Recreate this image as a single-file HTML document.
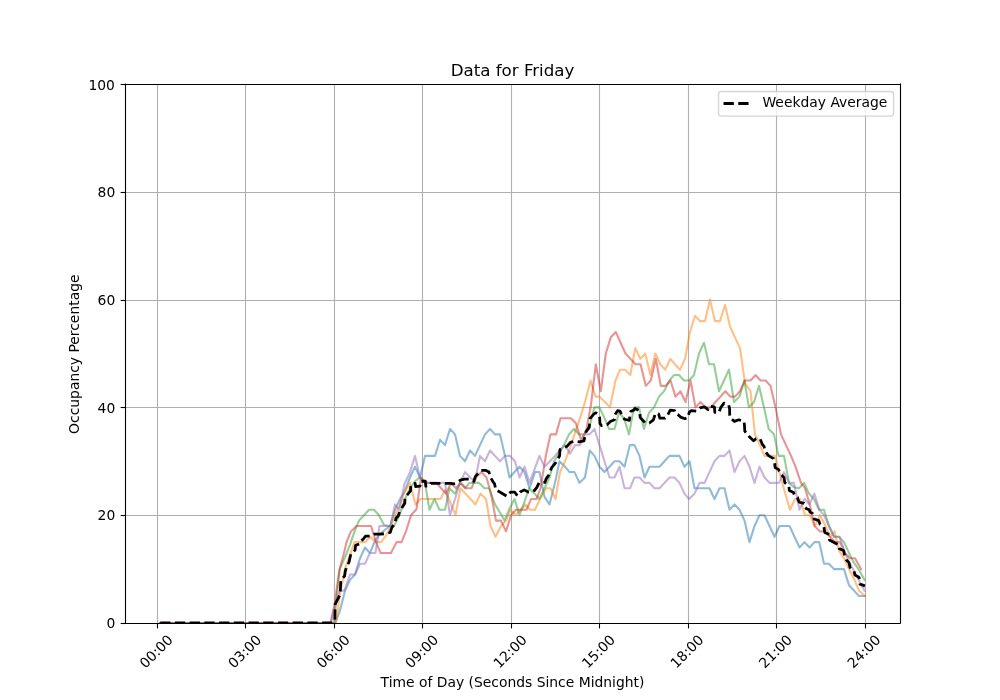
<!DOCTYPE html>
<html><head><meta charset="utf-8"><title>Data for Friday</title>
<style>html,body{margin:0;padding:0;background:#fff;}svg{display:block;}</style>
</head><body>
<svg width="1000" height="700" viewBox="0 0 720 504">
 
 <defs>
  <style type="text/css">*{stroke-linejoin: round; stroke-linecap: butt}</style>
 </defs>
 <g id="figure_1">
  <g id="patch_1">
   <path d="M 0 504 
L 720 504 
L 720 0 
L 0 0 
z
" style="fill: #ffffff"/>
  </g>
  <g id="axes_1">
   <g id="patch_2">
    <path d="M 90 448.56 
L 648 448.56 
L 648 60.48 
L 90 60.48 
z
" style="fill: #ffffff"/>
   </g>
   <g id="matplotlib.axis_1">
    <g id="xtick_1">
     <g id="line2d_1">
      <path d="M 113.4000 448.56 L 113.4000 60.48" clip-path="url(#p6128e1a9c3)" style="fill: none; stroke: #b0b0b0; stroke-width: 0.8; stroke-linecap: square"/>
     </g>
     <g id="line2d_2">
      <defs>
       <path id="m1504cfccaf" d="M 0 0 
L 0 3.5 
" style="stroke: #000000; stroke-width: 0.8"/>
      </defs>
      <g>
       <use href="#m1504cfccaf" x="113.4000" y="448.9200" style="stroke: #000000; stroke-width: 0.8"/>
      </g>
     </g>
     <g id="text_1">
      <text style="font-size: 10px; font-family: 'DejaVu Sans', 'Liberation Sans', sans-serif" transform="translate(104.802206 481.74) rotate(-45)">00:00</text>
     </g>
    </g>
    <g id="xtick_2">
     <g id="line2d_3">
      <path d="M 176.7600 448.56 L 176.7600 60.48" clip-path="url(#p6128e1a9c3)" style="fill: none; stroke: #b0b0b0; stroke-width: 0.8; stroke-linecap: square"/>
     </g>
     <g id="line2d_4">
      <g>
       <use href="#m1504cfccaf" x="176.7600" y="448.9200" style="stroke: #000000; stroke-width: 0.8"/>
      </g>
     </g>
     <g id="text_2">
      <text style="font-size: 10px; font-family: 'DejaVu Sans', 'Liberation Sans', sans-serif" transform="translate(168.486206 481.74) rotate(-45)">03:00</text>
     </g>
    </g>
    <g id="xtick_3">
     <g id="line2d_5">
      <path d="M 240.8400 448.56 L 240.8400 60.48" clip-path="url(#p6128e1a9c3)" style="fill: none; stroke: #b0b0b0; stroke-width: 0.8; stroke-linecap: square"/>
     </g>
     <g id="line2d_6">
      <g>
       <use href="#m1504cfccaf" x="240.8400" y="448.9200" style="stroke: #000000; stroke-width: 0.8"/>
      </g>
     </g>
     <g id="text_3">
      <text style="font-size: 10px; font-family: 'DejaVu Sans', 'Liberation Sans', sans-serif" transform="translate(232.170206 481.74) rotate(-45)">06:00</text>
     </g>
    </g>
    <g id="xtick_4">
     <g id="line2d_7">
      <path d="M 304.2000 448.56 L 304.2000 60.48" clip-path="url(#p6128e1a9c3)" style="fill: none; stroke: #b0b0b0; stroke-width: 0.8; stroke-linecap: square"/>
     </g>
     <g id="line2d_8">
      <g>
       <use href="#m1504cfccaf" x="304.2000" y="448.9200" style="stroke: #000000; stroke-width: 0.8"/>
      </g>
     </g>
     <g id="text_4">
      <text style="font-size: 10px; font-family: 'DejaVu Sans', 'Liberation Sans', sans-serif" transform="translate(295.854206 481.74) rotate(-45)">09:00</text>
     </g>
    </g>
    <g id="xtick_5">
     <g id="line2d_9">
      <path d="M 368.2800 448.56 L 368.2800 60.48" clip-path="url(#p6128e1a9c3)" style="fill: none; stroke: #b0b0b0; stroke-width: 0.8; stroke-linecap: square"/>
     </g>
     <g id="line2d_10">
      <g>
       <use href="#m1504cfccaf" x="368.2800" y="448.9200" style="stroke: #000000; stroke-width: 0.8"/>
      </g>
     </g>
     <g id="text_5">
      <text style="font-size: 10px; font-family: 'DejaVu Sans', 'Liberation Sans', sans-serif" transform="translate(359.538206 481.74) rotate(-45)">12:00</text>
     </g>
    </g>
    <g id="xtick_6">
     <g id="line2d_11">
      <path d="M 431.6400 448.56 L 431.6400 60.48" clip-path="url(#p6128e1a9c3)" style="fill: none; stroke: #b0b0b0; stroke-width: 0.8; stroke-linecap: square"/>
     </g>
     <g id="line2d_12">
      <g>
       <use href="#m1504cfccaf" x="431.6400" y="448.9200" style="stroke: #000000; stroke-width: 0.8"/>
      </g>
     </g>
     <g id="text_6">
      <text style="font-size: 10px; font-family: 'DejaVu Sans', 'Liberation Sans', sans-serif" transform="translate(423.222206 481.74) rotate(-45)">15:00</text>
     </g>
    </g>
    <g id="xtick_7">
     <g id="line2d_13">
      <path d="M 495.7200 448.56 L 495.7200 60.48" clip-path="url(#p6128e1a9c3)" style="fill: none; stroke: #b0b0b0; stroke-width: 0.8; stroke-linecap: square"/>
     </g>
     <g id="line2d_14">
      <g>
       <use href="#m1504cfccaf" x="495.7200" y="448.9200" style="stroke: #000000; stroke-width: 0.8"/>
      </g>
     </g>
     <g id="text_7">
      <text style="font-size: 10px; font-family: 'DejaVu Sans', 'Liberation Sans', sans-serif" transform="translate(486.906206 481.74) rotate(-45)">18:00</text>
     </g>
    </g>
    <g id="xtick_8">
     <g id="line2d_15">
      <path d="M 559.0800 448.56 L 559.0800 60.48" clip-path="url(#p6128e1a9c3)" style="fill: none; stroke: #b0b0b0; stroke-width: 0.8; stroke-linecap: square"/>
     </g>
     <g id="line2d_16">
      <g>
       <use href="#m1504cfccaf" x="559.0800" y="448.9200" style="stroke: #000000; stroke-width: 0.8"/>
      </g>
     </g>
     <g id="text_8">
      <text style="font-size: 10px; font-family: 'DejaVu Sans', 'Liberation Sans', sans-serif" transform="translate(550.590206 481.74) rotate(-45)">21:00</text>
     </g>
    </g>
    <g id="xtick_9">
     <g id="line2d_17">
      <path d="M 623.1600 448.56 L 623.1600 60.48" clip-path="url(#p6128e1a9c3)" style="fill: none; stroke: #b0b0b0; stroke-width: 0.8; stroke-linecap: square"/>
     </g>
     <g id="line2d_18">
      <g>
       <use href="#m1504cfccaf" x="623.1600" y="448.9200" style="stroke: #000000; stroke-width: 0.8"/>
      </g>
     </g>
     <g id="text_9">
      <text style="font-size: 10px; font-family: 'DejaVu Sans', 'Liberation Sans', sans-serif" transform="translate(614.274206 481.74) rotate(-45)">24:00</text>
     </g>
    </g>
    <g id="text_10">
     <text style="font-size: 10px; font-family: 'DejaVu Sans', 'Liberation Sans', sans-serif; text-anchor: middle" x="369" y="494.379839">Time of Day (Seconds Since Midnight)</text>
    </g>
   </g>
   <g id="matplotlib.axis_2">
    <g id="ytick_1">
     <g id="line2d_19">
      <path d="M 90 448.9200 L 648 448.9200" clip-path="url(#p6128e1a9c3)" style="fill: none; stroke: #b0b0b0; stroke-width: 0.8; stroke-linecap: square"/>
     </g>
     <g id="line2d_20">
      <defs>
       <path id="m5d545ce8f8" d="M 0 0 
L -3.5 0 
" style="stroke: #000000; stroke-width: 0.8"/>
      </defs>
      <g>
       <use href="#m5d545ce8f8" x="90.3600" y="448.9200" style="stroke: #000000; stroke-width: 0.8"/>
      </g>
     </g>
     <g id="text_11">
      <text style="font-size: 10px; font-family: 'DejaVu Sans', 'Liberation Sans', sans-serif; text-anchor: end" x="83" y="452.359219">0</text>
     </g>
    </g>
    <g id="ytick_2">
     <g id="line2d_21">
      <path d="M 90 371.1600 L 648 371.1600" clip-path="url(#p6128e1a9c3)" style="fill: none; stroke: #b0b0b0; stroke-width: 0.8; stroke-linecap: square"/>
     </g>
     <g id="line2d_22">
      <g>
       <use href="#m5d545ce8f8" x="90.3600" y="371.1600" style="stroke: #000000; stroke-width: 0.8"/>
      </g>
     </g>
     <g id="text_12">
      <text style="font-size: 10px; font-family: 'DejaVu Sans', 'Liberation Sans', sans-serif; text-anchor: end" x="83" y="374.743219">20</text>
     </g>
    </g>
    <g id="ytick_3">
     <g id="line2d_23">
      <path d="M 90 293.4000 L 648 293.4000" clip-path="url(#p6128e1a9c3)" style="fill: none; stroke: #b0b0b0; stroke-width: 0.8; stroke-linecap: square"/>
     </g>
     <g id="line2d_24">
      <g>
       <use href="#m5d545ce8f8" x="90.3600" y="293.4000" style="stroke: #000000; stroke-width: 0.8"/>
      </g>
     </g>
     <g id="text_13">
      <text style="font-size: 10px; font-family: 'DejaVu Sans', 'Liberation Sans', sans-serif; text-anchor: end" x="83" y="297.127219">40</text>
     </g>
    </g>
    <g id="ytick_4">
     <g id="line2d_25">
      <path d="M 90 216.3600 L 648 216.3600" clip-path="url(#p6128e1a9c3)" style="fill: none; stroke: #b0b0b0; stroke-width: 0.8; stroke-linecap: square"/>
     </g>
     <g id="line2d_26">
      <g>
       <use href="#m5d545ce8f8" x="90.3600" y="216.3600" style="stroke: #000000; stroke-width: 0.8"/>
      </g>
     </g>
     <g id="text_14">
      <text style="font-size: 10px; font-family: 'DejaVu Sans', 'Liberation Sans', sans-serif; text-anchor: end" x="83" y="219.511219">60</text>
     </g>
    </g>
    <g id="ytick_5">
     <g id="line2d_27">
      <path d="M 90 138.6000 L 648 138.6000" clip-path="url(#p6128e1a9c3)" style="fill: none; stroke: #b0b0b0; stroke-width: 0.8; stroke-linecap: square"/>
     </g>
     <g id="line2d_28">
      <g>
       <use href="#m5d545ce8f8" x="90.3600" y="138.6000" style="stroke: #000000; stroke-width: 0.8"/>
      </g>
     </g>
     <g id="text_15">
      <text style="font-size: 10px; font-family: 'DejaVu Sans', 'Liberation Sans', sans-serif; text-anchor: end" x="83" y="141.895219">80</text>
     </g>
    </g>
    <g id="ytick_6">
     <g id="line2d_29">
      <path d="M 90 60.8400 L 648 60.8400" clip-path="url(#p6128e1a9c3)" style="fill: none; stroke: #b0b0b0; stroke-width: 0.8; stroke-linecap: square"/>
     </g>
     <g id="line2d_30">
      <g>
       <use href="#m5d545ce8f8" x="90.3600" y="60.8400" style="stroke: #000000; stroke-width: 0.8"/>
      </g>
     </g>
     <g id="text_16">
      <text style="font-size: 10px; font-family: 'DejaVu Sans', 'Liberation Sans', sans-serif; text-anchor: end" x="82.7" y="64.85">100</text>
     </g>
    </g>
    <g id="text_17">
     <text style="font-size: 10px; font-family: 'DejaVu Sans', 'Liberation Sans', sans-serif; text-anchor: middle" x="57.11" y="255.02" transform="rotate(-90 57.11 255.02)">Occupancy Percentage</text>
    </g>
   </g>
   <g id="line2d_31">
    <path d="M 115.344 448.56 
L 241.2 448.56 
L 244.44 440.7984 
L 248.4 425.2752 
L 252 417.5136 
L 255.6 413.6328 
L 259.2 401.9904 
L 262.8 394.2288 
L 266.4 398.1096 
L 270 389.18376 
L 273.6 384.5268 
L 277.2 381.42216 
L 280.8 378.7056 
L 284.4 367.0632 
L 288 359.3016 
L 291.6 353.4804 
L 295.2 343.7784 
L 298.8 336.0168 
L 302.4 343.7784 
L 306 328.2552 
L 309.6 328.2552 
L 313.2 328.2552 
L 316.8 316.6128 
L 320.4 320.4936 
L 324 308.8512 
L 327.6 312.732 
L 331.2 328.2552 
L 334.8 332.136 
L 338.4 324.3744 
L 342 328.2552 
L 345.6 320.4936 
L 349.2 312.732 
L 352.8 308.8512 
L 356.4 312.732 
L 360 312.732 
L 363.6 328.2552 
L 366.84 343.7784 
L 370.44 339.8976 
L 374.04 336.0168 
L 377.64 339.8976 
L 381.24 351.54 
L 385.2 339.8976 
L 388.44 339.8976 
L 392.04 357.74928 
L 395.64 363.1824 
L 399.6 347.6592 
L 402.84 332.136 
L 406.8 336.0168 
L 410.04 339.8976 
L 413.64 339.8976 
L 417.24 347.6592 
L 421.2 343.7784 
L 424.584 324.3744 
L 428.04 328.2552 
L 431.64 336.0168 
L 435.24 339.8976 
L 438.84 336.0168 
L 442.44 332.136 
L 446.04 332.136 
L 449.64 336.0168 
L 453.456 320.4936 
L 456.84 320.4936 
L 460.44 328.2552 
L 464.04 343.7784 
L 467.64 336.0168 
L 471.24 336.0168 
L 474.84 336.0168 
L 478.44 332.136 
L 482.04 328.2552 
L 485.64 328.2552 
L 489.24 328.2552 
L 492.84 336.0168 
L 496.44 332.136 
L 500.04 351.54 
L 503.64 351.54 
L 507.24 351.54 
L 510.84 351.54 
L 514.44 359.3016 
L 518.04 351.54 
L 521.64 351.54 
L 525.24 367.0632 
L 528.84 363.1824 
L 532.44 367.0632 
L 536.04 374.8248 
L 539.64 390.348 
L 543.24 378.7056 
L 546.84 370.944 
L 550.44 370.944 
L 554.04 378.7056 
L 557.64 386.4672 
L 561.24 378.7056 
L 564.84 378.7056 
L 568.44 378.7056 
L 572.04 386.4672 
L 575.64 394.2288 
L 579.24 390.348 
L 582.84 394.2288 
L 586.44 390.348 
L 589.896 390.348 
L 593.28 405.8712 
L 596.88 405.8712 
L 600.48 409.752 
L 604.08 409.752 
L 607.68 409.752 
L 611.28 421.3944 
L 614.88 425.2752 
L 618.48 429.156 
L 622.8 429.156 
" clip-path="url(#p6128e1a9c3)" style="fill: none; stroke: #1f77b4; stroke-opacity: 0.5; stroke-width: 1.5; stroke-linecap: square"/>
   </g>
   <g id="line2d_32">
    <path d="M 115.344 448.56 
L 241.92 448.56 
L 244.8 427.2156 
L 248.4 409.752 
L 252 399.66192 
L 255.24 390.348 
L 259.2 390.348 
L 263.16 390.348 
L 266.4 386.4672 
L 270.72 390.348 
L 274.32 390.348 
L 277.92 385.69104 
L 281.52 378.7056 
L 284.4 370.944 
L 288 363.1824 
L 291.6 353.4804 
L 295.2 347.6592 
L 299.16 363.1824 
L 302.76 359.3016 
L 306 359.3016 
L 309.6 359.3016 
L 313.2 359.3016 
L 317.16 359.3016 
L 320.4 352.70424 
L 324 361.242 
L 327.96 370.944 
L 331.56 351.54 
L 335.16 355.4208 
L 338.76 359.3016 
L 342.36 363.1824 
L 345.96 355.4208 
L 349.92 359.3016 
L 353.16 378.7056 
L 356.76 386.4672 
L 360.72 378.7056 
L 364.32 374.8248 
L 367.56 367.0632 
L 371.16 370.944 
L 374.76 367.0632 
L 378.36 363.1824 
L 381.6 367.0632 
L 385.2 367.0632 
L 388.8 359.3016 
L 393.12 351.54 
L 396.36 351.54 
L 399.96 359.3016 
L 403.2 339.8976 
L 406.8 332.136 
L 410.4 322.434 
L 414 311.56776 
L 417.6 301.0896 
L 421.2 289.4472 
L 425.16 273.924 
L 428.76 285.5664 
L 431.64 285.5664 
L 435.6 289.4472 
L 439.2 293.328 
L 443.16 273.924 
L 446.4 266.1624 
L 450 266.1624 
L 453.816 270.0432 
L 457.416 250.6392 
L 461.016 258.4008 
L 464.616 254.52 
L 468.216 270.0432 
L 471.816 254.52 
L 475.416 262.2816 
L 479.016 266.1624 
L 482.616 258.4008 
L 486 262.2816 
L 489.6 266.1624 
L 493.2 258.4008 
L 496.8 238.9968 
L 500.4 227.3544 
L 504 231.2352 
L 507.6 231.2352 
L 511.2 215.712 
L 514.8 231.2352 
L 518.4 231.2352 
L 522 219.5928 
L 525.6 235.116 
L 529.2 242.8776 
L 532.8 250.6392 
L 536.4 275.8644 
L 540.36 281.6856 
L 543.6 312.732 
L 547.2 320.4936 
L 550.44 328.2552 
L 554.4 328.2552 
L 558 328.2552 
L 561.6 341.838 
L 565.2 354.64464 
L 568.8 367.0632 
L 572.4 359.3016 
L 576 359.3016 
L 579.6 370.944 
L 583.2 370.944 
L 586.8 378.7056 
L 590.4 370.944 
L 594 377.92944 
L 597.6 386.4672 
L 600.84 382.5864 
L 604.08 396.55728 
L 607.68 401.9904 
L 611.28 409.752 
L 614.88 416.73744 
L 618.48 425.2752 
L 622.8 429.156 
" clip-path="url(#p6128e1a9c3)" style="fill: none; stroke: #ff7f0e; stroke-opacity: 0.5; stroke-width: 1.5; stroke-linecap: square"/>
   </g>
   <g id="line2d_33">
    <path d="M 115.344 448.56 
L 240.48 448.56 
L 244.44 409.752 
L 248.4 401.21424 
L 252 392.2884 
L 255.24 382.5864 
L 258.48 374.8248 
L 262.08 370.944 
L 265.68 367.0632 
L 269.28 367.0632 
L 272.88 370.944 
L 276.48 377.92944 
L 280.08 378.7056 
L 283.68 378.7056 
L 287.64 370.944 
L 291.6 359.3016 
L 295.2 351.54 
L 298.8 346.49496 
L 302.04 343.7784 
L 306 347.6592 
L 309.24 367.0632 
L 312.84 359.3016 
L 316.44 367.0632 
L 320.4 367.0632 
L 323.64 351.54 
L 327.6 355.4208 
L 331.2 347.6592 
L 334.8 351.54 
L 338.04 347.6592 
L 341.64 347.6592 
L 344.88 347.6592 
L 348.84 351.54 
L 352.08 351.54 
L 356.4 363.1824 
L 360 369.0036 
L 363.24 374.8248 
L 366.48 367.0632 
L 370.44 359.3016 
L 374.04 370.944 
L 377.64 361.242 
L 380.88 351.54 
L 384.84 355.4208 
L 388.44 359.3016 
L 392.04 351.54 
L 395.64 343.7784 
L 398.88 332.136 
L 402.48 326.3148 
L 406.08 320.4936 
L 409.68 312.732 
L 413.28 308.8512 
L 416.88 312.732 
L 420.48 312.732 
L 424.08 308.8512 
L 427.896 293.328 
L 431.64 293.328 
L 435.24 301.0896 
L 438.48 308.8512 
L 442.44 308.8512 
L 445.68 297.2088 
L 449.28 301.0896 
L 452.88 312.732 
L 456.48 293.328 
L 460.08 293.328 
L 463.68 308.8512 
L 467.28 297.2088 
L 470.88 293.328 
L 474.48 285.5664 
L 478.08 281.6856 
L 482.04 273.924 
L 485.28 270.0432 
L 488.88 270.0432 
L 492.48 273.924 
L 496.08 273.924 
L 499.68 270.0432 
L 503.28 254.52 
L 506.88 246.7584 
L 510.48 262.2816 
L 514.08 262.2816 
L 517.68 281.6856 
L 521.28 273.924 
L 524.88 266.1624 
L 528.48 289.4472 
L 532.44 285.5664 
L 535.896 273.924 
L 539.28 293.328 
L 542.88 289.4472 
L 546.48 277.8048 
L 550.08 293.328 
L 553.464 308.8512 
L 557.28 312.732 
L 560.52 328.2552 
L 564.48 328.2552 
L 568.08 347.6592 
L 571.68 350.76384 
L 575.28 351.54 
L 578.88 347.6592 
L 582.48 355.4208 
L 586.08 359.3016 
L 589.68 367.0632 
L 593.28 367.0632 
L 596.88 378.7056 
L 600.48 386.4672 
L 604.08 386.4672 
L 607.68 390.348 
L 611.28 398.1096 
L 614.52 404.70696 
L 618.12 409.752 
L 622.44 417.5136 
" clip-path="url(#p6128e1a9c3)" style="fill: none; stroke: #2ca02c; stroke-opacity: 0.5; stroke-width: 1.5; stroke-linecap: square"/>
   </g>
   <g id="line2d_34">
    <path d="M 115.344 448.56 
L 237.96 448.56 
L 241.2 433.42488 
L 243 419.84208 
L 244.8 408.97584 
L 247.32 399.66192 
L 249.48 390.348 
L 252.72 382.5864 
L 256.68 378.7056 
L 259.92 378.7056 
L 263.52 378.7056 
L 267.12 378.7056 
L 270.72 390.348 
L 273.96 398.1096 
L 277.92 398.1096 
L 281.52 398.1096 
L 285.48 390.348 
L 289.08 390.348 
L 292.32 382.5864 
L 295.92 370.944 
L 299.88 366.67512 
L 303.12 343.7784 
L 306.72 347.6592 
L 310.32 347.6592 
L 314.28 347.6592 
L 317.52 351.54 
L 321.12 355.4208 
L 324.72 347.6592 
L 328.32 351.54 
L 331.56 347.6592 
L 335.52 351.54 
L 339.48 351.54 
L 342.72 343.7784 
L 346.68 339.8976 
L 350.28 343.7784 
L 353.52 355.4208 
L 357.12 374.8248 
L 360.72 374.8248 
L 364.32 382.5864 
L 367.92 370.944 
L 371.52 367.0632 
L 375.12 367.0632 
L 379.08 367.0632 
L 382.32 359.3016 
L 386.28 359.3016 
L 389.16 351.54 
L 393.12 327.47904 
L 396.36 312.732 
L 400.32 312.732 
L 403.56 301.0896 
L 407.52 301.0896 
L 411.12 301.0896 
L 414.72 304.9704 
L 418.32 316.6128 
L 421.92 310.7916 
L 425.52 291.3876 
L 428.976 262.2816 
L 432.576 281.6856 
L 436.176 254.52 
L 439.776 242.8776 
L 443.376 238.9968 
L 446.832 246.7584 
L 450.36 254.52 
L 453.96 258.4008 
L 457.56 262.2816 
L 461.16 262.2816 
L 464.976 277.8048 
L 468.576 273.924 
L 472.176 258.4008 
L 475.776 277.8048 
L 479.16 277.8048 
L 482.76 273.924 
L 486.36 285.5664 
L 489.96 281.6856 
L 493.56 289.4472 
L 497.16 273.924 
L 500.76 293.328 
L 504.36 289.4472 
L 507.96 293.328 
L 511.56 293.328 
L 515.16 289.4472 
L 518.76 285.5664 
L 522.216 281.6856 
L 525.816 285.5664 
L 529.2 285.5664 
L 532.8 281.6856 
L 536.4 273.924 
L 540.36 273.924 
L 543.96 270.0432 
L 547.56 273.924 
L 551.16 273.924 
L 554.76 277.8048 
L 558.36 293.328 
L 562.32 312.732 
L 565.92 320.4936 
L 569.52 328.2552 
L 572.76 336.0168 
L 576.72 347.6592 
L 579.6 351.54 
L 583.2 363.95856 
L 586.44 378.7056 
L 590.4 382.5864 
L 594 382.5864 
L 597.6 386.4672 
L 601.2 390.348 
L 604.8 390.348 
L 608.4 398.1096 
L 612 401.9904 
L 615.6 401.9904 
L 619.92 409.752 
" clip-path="url(#p6128e1a9c3)" style="fill: none; stroke: #d62728; stroke-opacity: 0.5; stroke-width: 1.5; stroke-linecap: square"/>
   </g>
   <g id="line2d_35">
    <path d="M 115.344 448.56 
L 238.32 448.56 
L 241.2 436.9176 
L 244.44 425.2752 
L 248.04 425.2752 
L 252 413.6328 
L 255.6 413.6328 
L 259.2 405.8712 
L 262.8 405.8712 
L 266.4 398.1096 
L 270.36 398.1096 
L 273.24 378.7056 
L 277.2 378.7056 
L 281.16 378.7056 
L 284.4 363.1824 
L 287.496 367.0632 
L 291.24 348.43536 
L 295.2 339.8976 
L 298.8 328.2552 
L 302.4 343.7784 
L 306 347.6592 
L 309.6 347.6592 
L 313.2 347.6592 
L 316.8 347.6592 
L 320.4 347.6592 
L 324 370.944 
L 327.6 359.3016 
L 331.2 347.6592 
L 334.8 339.8976 
L 338.4 343.7784 
L 342 346.49496 
L 345.6 328.2552 
L 349.2 332.136 
L 352.8 324.3744 
L 356.4 328.2552 
L 360 332.136 
L 363.6 328.2552 
L 367.2 328.2552 
L 370.8 332.136 
L 374.04 343.7784 
L 377.64 336.0168 
L 381.24 347.6592 
L 384.84 337.9572 
L 388.44 328.2552 
L 392.04 336.0168 
L 396 332.136 
L 399.6 328.2552 
L 402.84 324.3744 
L 406.8 320.4936 
L 410.4 326.70288 
L 414 320.4936 
L 417.6 320.4936 
L 420.84 312.732 
L 424.44 312.732 
L 428.04 308.8512 
L 431.64 320.4936 
L 435.24 332.136 
L 438.84 343.7784 
L 442.44 343.7784 
L 446.04 336.0168 
L 449.64 351.54 
L 453.6 351.54 
L 456.84 343.7784 
L 460.44 343.7784 
L 464.04 347.6592 
L 467.64 347.6592 
L 471.24 351.54 
L 474.84 351.54 
L 478.44 347.6592 
L 482.04 343.7784 
L 485.64 343.7784 
L 489.24 347.6592 
L 492.84 355.4208 
L 496.08 359.3016 
L 500.04 355.4208 
L 503.64 347.6592 
L 507.24 347.6592 
L 510.84 339.8976 
L 514.44 332.136 
L 518.04 328.2552 
L 521.64 328.2552 
L 525.24 324.3744 
L 528.84 339.8976 
L 532.44 332.136 
L 536.04 328.2552 
L 539.64 336.0168 
L 543.24 347.6592 
L 546.84 336.0168 
L 550.44 343.7784 
L 554.04 347.6592 
L 557.64 347.6592 
L 560.88 347.6592 
L 564.48 339.8976 
L 568.08 347.6592 
L 571.68 347.6592 
L 575.64 367.0632 
L 579.24 359.3016 
L 582.84 363.1824 
L 586.296 355.4208 
L 590.04 367.0632 
L 593.28 370.944 
L 596.88 378.7056 
L 600.48 386.4672 
L 604.44 386.4672 
L 608.4 398.1096 
L 612 405.8712 
L 615.6 412.46856 
L 619.2 419.454 
L 622.44 425.2752 
" clip-path="url(#p6128e1a9c3)" style="fill: none; stroke: #9467bd; stroke-opacity: 0.5; stroke-width: 1.5; stroke-linecap: square"/>
   </g>
   <g id="line2d_36">
    <path d="M 115.344 448.56 
L 238.32 448.56 
L 241.056 447.39576 
L 241.344 434.9772 
L 244.944 427.99176 
L 245.376 417.5136 
L 248.112 414.79704 
L 248.616 411.30432 
L 249.552 408.19968 
L 251.28 404.70696 
L 252.72 398.49768 
L 255.6 396.1692 
L 256.032 392.67648 
L 259.056 391.51224 
L 259.56 389.57184 
L 261.36 388.4076 
L 263.088 386.07912 
L 266.544 386.07912 
L 269.712 384.5268 
L 274.032 384.5268 
L 278.064 384.13872 
L 280.944 383.36256 
L 282.096 379.86984 
L 284.112 377.15328 
L 285.264 372.8844 
L 286.56 371.72016 
L 288 367.83936 
L 291.456 362.40624 
L 291.6 358.13736 
L 295.632 353.4804 
L 295.776 349.21152 
L 298.944 348.04728 
L 299.232 350.37576 
L 302.4 349.98768 
L 302.832 346.49496 
L 306.288 346.49496 
L 306.576 349.98768 
L 309.024 349.98768 
L 310.176 348.04728 
L 324.576 348.04728 
L 326.304 348.43536 
L 329.76 346.88304 
L 331.488 345.7188 
L 334.368 344.94264 
L 338.256 344.94264 
L 341.136 346.49496 
L 342.288 343.00224 
L 346.32 338.73336 
L 349.776 338.73336 
L 352.08 339.8976 
L 353.232 343.7784 
L 354.96 346.88304 
L 356.112 348.43536 
L 356.976 352.70424 
L 359.856 354.25656 
L 365.04 357.3612 
L 367.632 354.25656 
L 370.512 354.25656 
L 372.528 356.97312 
L 374.544 354.25656 
L 377.424 352.70424 
L 380.304 354.25656 
L 382.032 354.25656 
L 384.912 353.09232 
L 386.64 350.76384 
L 388.08 347.6592 
L 392.4 347.27112 
L 393.12 344.94264 
L 395.28 341.838 
L 397.08 336.79296 
L 400.32 332.91216 
L 402.912 328.2552 
L 403.2 323.59824 
L 408.384 321.26976 
L 410.688 318.5532 
L 413.568 317.77704 
L 417.024 318.16512 
L 420.48 317.38896 
L 421.92 310.7916 
L 424.224 307.68696 
L 424.8 301.47768 
L 427.68 297.98496 
L 429.12 297.2088 
L 431.424 298.76112 
L 431.712 300.31344 
L 432 304.9704 
L 433.152 306.52272 
L 437.184 305.74656 
L 439.488 303.41808 
L 442.368 302.25384 
L 442.656 298.76112 
L 444.672 295.65648 
L 446.4 296.04456 
L 447.984 299.1492 
L 449.64 301.86576 
L 453.168 302.64192 
L 453.456 299.53728 
L 454.32 296.04456 
L 456.336 295.2684 
L 457.2 294.10416 
L 460.368 295.65648 
L 460.944 300.70152 
L 464.688 304.58232 
L 467.568 304.58232 
L 470.448 302.25384 
L 471.312 299.53728 
L 471.6 297.98496 
L 474.192 297.98496 
L 475.056 301.0896 
L 478.8 301.0896 
L 481.392 297.59688 
L 482.544 295.2684 
L 485.712 295.65648 
L 486.36 297.59688 
L 488.016 298.37304 
L 490.032 300.31344 
L 493.2 301.47768 
L 495.36 300.70152 
L 496.224 296.82072 
L 497.664 295.65648 
L 501.408 296.04456 
L 504 293.71608 
L 507.168 292.93992 
L 509.76 294.88032 
L 510.624 292.55184 
L 514.368 292.93992 
L 514.656 296.82072 
L 517.536 297.2088 
L 518.976 293.328 
L 521.28 290.22336 
L 524.736 291.77568 
L 525.312 294.49224 
L 525.384 299.1492 
L 525.888 300.70152 
L 528.768 303.41808 
L 531.936 302.25384 
L 535.68 303.41808 
L 535.968 305.74656 
L 536.256 310.40352 
L 539.712 314.6724 
L 542.592 317.38896 
L 544.32 315.83664 
L 547.2 315.83664 
L 548.928 320.10552 
L 550.08 321.26976 
L 550.944 325.15056 
L 553.536 328.2552 
L 556.992 330.1956 
L 557.568 332.52408 
L 558.144 336.79296 
L 560.448 337.9572 
L 562.176 341.44992 
L 564.48 343.7784 
L 565.056 347.46516 
L 568.08 350.37576 
L 568.296 353.09232 
L 571.392 354.64464 
L 571.968 356.58504 
L 574.272 358.13736 
L 574.56 359.68968 
L 575.424 361.63008 
L 578.88 362.40624 
L 579.6 365.1228 
L 580.608 366.28704 
L 582.624 367.0632 
L 583.2 368.61552 
L 585.216 369.77976 
L 585.936 371.33208 
L 586.224 373.66056 
L 589.536 374.8248 
L 590.4 377.54136 
L 592.992 379.09368 
L 593.28 379.86984 
L 593.856 383.36256 
L 597.024 384.91488 
L 597.168 388.79568 
L 602.208 391.51224 
L 603.936 392.2884 
L 604.224 395.00496 
L 607.392 396.55728 
L 607.968 399.27384 
L 609.408 403.15464 
L 611.28 405.09504 
L 612 408.58776 
L 614.88 411.30432 
L 615.6 414.02088 
L 618.48 415.5732 
L 619.2 420.61824 
L 622.8 421.78248 
L 622.8 421.78248 
" clip-path="url(#p6128e1a9c3)" style="fill: none; stroke-dasharray: 7.4,3.2; stroke-dashoffset: 0; stroke: #000000; stroke-width: 2"/>
   </g>
   <g id="patch_3">
    <path d="M 90.3600 448.56 L 90.3600 60.48" style="fill: none; stroke: #000000; stroke-width: 0.8; stroke-linejoin: miter; stroke-linecap: square"/>
   </g>
   <g id="patch_4">
    <path d="M 648.3600 448.56 L 648.3600 60.48" style="fill: none; stroke: #000000; stroke-width: 0.8; stroke-linejoin: miter; stroke-linecap: square"/>
   </g>
   <g id="patch_5">
    <path d="M 90 448.9200 L 648 448.9200" style="fill: none; stroke: #000000; stroke-width: 0.8; stroke-linejoin: miter; stroke-linecap: square"/>
   </g>
   <g id="patch_6">
    <path d="M 90 60.8400 L 648 60.8400" style="fill: none; stroke: #000000; stroke-width: 0.8; stroke-linejoin: miter; stroke-linecap: square"/>
   </g>
   <g id="text_18">
    <text style="font-size: 12px; font-family: 'DejaVu Sans', 'Liberation Sans', sans-serif; text-anchor: middle" x="369" y="54.48">Data for Friday</text>
   </g>
   <g id="legend_1">
    <g id="patch_7">
     <path d="M 519.320 83.592 L 641.392 83.592 Q 643.392 83.592 643.392 81.592 L 643.392 67.880 Q 643.392 65.880 641.392 65.880 L 519.320 65.880 Q 517.320 65.880 517.320 67.880 L 517.320 81.592 Q 517.320 83.592 519.320 83.592 z" style="fill: #ffffff; opacity: 0.8; stroke: #cccccc; stroke-linejoin: miter"/>
    </g>
    <g id="line2d_37">
     <path d="M 520.964062 74.52 L 530.964062 74.52 L 540.964062 74.52" style="fill: none; stroke-dasharray: 7.4,3.2; stroke-dashoffset: 0; stroke: #000000; stroke-width: 2"/>
    </g>
    <g id="text_19">
     <text style="font-size: 10px; font-family: 'DejaVu Sans', 'Liberation Sans', sans-serif; text-anchor: start" x="548.964062" y="77.078438">Weekday Average</text>
    </g>
   </g>
  </g>
 </g>
 <defs>
  <clipPath id="p6128e1a9c3">
   <rect x="90" y="60.48" width="558" height="388.08"/>
  </clipPath>
 </defs>
</svg>

</body></html>
